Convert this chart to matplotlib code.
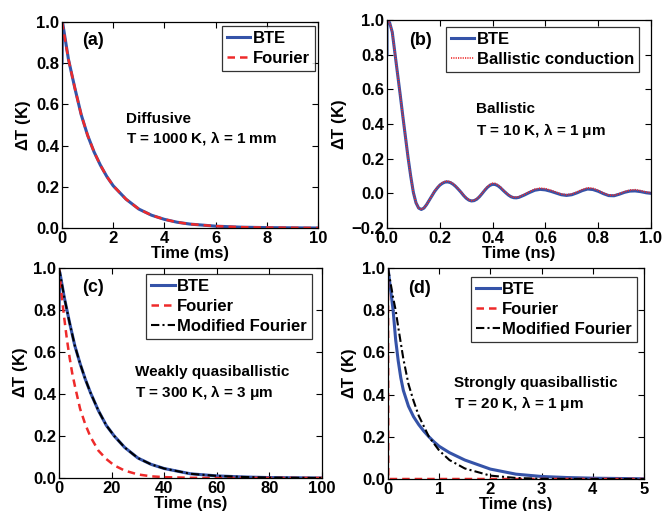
import matplotlib
matplotlib.use("Agg")
import matplotlib.pyplot as plt
from matplotlib.ticker import FormatStrFormatter, FuncFormatter

plt.rcParams['font.family'] = ['Liberation Sans', 'DejaVu Sans']
plt.rcParams['font.weight'] = 'bold'
plt.rcParams['axes.labelweight'] = 'bold'
plt.rcParams['mathtext.default'] = 'regular'

BLUE = '#3553a8'
RED = '#ee2a2a'

# ---------------- data (a) ----------------
ta_bte = [0, 0.02, 0.25, 0.5, 0.75, 1, 1.25, 1.5, 1.75, 2, 2.5, 3, 3.5, 4, 4.5, 5, 6, 7, 8, 9, 10]
va_bte = [0.8, 1.0, 0.82, 0.68, 0.55, 0.45, 0.37, 0.305, 0.25, 0.205, 0.14, 0.092, 0.062, 0.042, 0.028, 0.019, 0.009, 0.004, 0.002, 0.001, 0.0]
ta_four = [0, 0.25, 0.5, 0.75, 1, 1.25, 1.5, 1.75, 2, 2.5, 3, 3.5, 4, 4.5, 5, 6, 7, 8, 9, 10]
va_four = [1.0, 0.82, 0.68, 0.55, 0.45, 0.37, 0.305, 0.25, 0.205, 0.14, 0.092, 0.062, 0.042, 0.028, 0.019, 0.009, 0.004, 0.002, 0.001, 0.0]

# ---------------- data (b) ----------------
tb_bte = [0, 0, 0.01, 0.02, 0.03, 0.04, 0.05, 0.06, 0.07, 0.08, 0.09, 0.10, 0.11, 0.12, 0.13, 0.14, 0.15, 0.16,
          0.17, 0.18, 0.19, 0.20, 0.21, 0.22, 0.23, 0.24, 0.25, 0.26, 0.27, 0.28, 0.29, 0.30, 0.31, 0.32, 0.33,
          0.34, 0.35, 0.36, 0.37, 0.38, 0.39, 0.40, 0.41, 0.42, 0.43, 0.44, 0.45, 0.46, 0.47, 0.48, 0.49, 0.50,
          0.52, 0.54, 0.56, 0.58, 0.60, 0.62, 0.64, 0.66, 0.68, 0.70, 0.72, 0.74, 0.76, 0.78, 0.80, 0.82, 0.84,
          0.86, 0.88, 0.90, 0.92, 0.94, 0.96, 0.98, 1.0]
vb_bte = [0.8, 1.0, 0.985, 0.93, 0.81, 0.69, 0.57, 0.445, 0.325, 0.205, 0.098, 0.005, -0.055, -0.085, -0.093, -0.085, -0.065, -0.04,
          -0.015, 0.01, 0.03, 0.047, 0.058, 0.065, 0.066, 0.062, 0.053, 0.04, 0.024, 0.007, -0.012, -0.028, -0.039, -0.044, -0.042,
          -0.034, -0.02, -0.002, 0.017, 0.034, 0.046, 0.052, 0.051, 0.044, 0.032, 0.017, 0.003, -0.01, -0.02, -0.025, -0.026, -0.023,
          -0.01, 0.005, 0.018, 0.023, 0.02, 0.012, 0.002, -0.008, -0.012, -0.008, 0.003, 0.016, 0.025, 0.022, 0.012, -0.002, -0.013,
          -0.014, -0.005, 0.006, 0.013, 0.014, 0.01, 0.004, 0.0]
tb_ball = [0, 0.01, 0.02, 0.03, 0.04, 0.05, 0.06, 0.07, 0.08, 0.09, 0.10, 0.11, 0.12, 0.13, 0.14, 0.15, 0.16,
           0.17, 0.18, 0.19, 0.20, 0.21, 0.22, 0.23, 0.24, 0.25, 0.26, 0.27, 0.28, 0.29, 0.30, 0.31, 0.32, 0.33,
           0.34, 0.35, 0.36, 0.37, 0.38, 0.39, 0.40, 0.41, 0.42, 0.43, 0.44, 0.45, 0.46, 0.47, 0.48, 0.49, 0.50,
           0.52, 0.54, 0.56, 0.58, 0.60, 0.62, 0.64, 0.66, 0.68, 0.70, 0.72, 0.74, 0.76, 0.78, 0.80, 0.82, 0.84,
           0.86, 0.88, 0.90, 0.92, 0.94, 0.96, 0.98, 1.0]
vb_ball = [1.0, 0.985, 0.93, 0.81, 0.69, 0.57, 0.445, 0.325, 0.205, 0.098, 0.005, -0.055, -0.085, -0.093, -0.085, -0.065, -0.04,
           -0.014, 0.012, 0.033, 0.05, 0.062, 0.069, 0.071, 0.066, 0.056, 0.042, 0.026, 0.009, -0.01, -0.026, -0.037, -0.042, -0.04,
           -0.032, -0.018, 0.0, 0.02, 0.038, 0.051, 0.058, 0.057, 0.049, 0.036, 0.02, 0.005, -0.008, -0.018, -0.022, -0.023, -0.02,
           -0.006, 0.01, 0.024, 0.03, 0.027, 0.018, 0.007, -0.004, -0.008, -0.004, 0.008, 0.022, 0.032, 0.029, 0.017, 0.002, -0.01,
           -0.011, -0.002, 0.01, 0.019, 0.021, 0.016, 0.008, 0.003]

# ---------------- data (c) ----------------
tc_bte = [0, 0.3, 2, 4, 6, 8, 10, 12, 15, 18, 21, 25, 30, 35, 40, 50, 60, 70, 80, 90, 100]
vc_bte = [0.8, 0.98, 0.86, 0.74, 0.63, 0.545, 0.47, 0.405, 0.32, 0.25, 0.2, 0.145, 0.095, 0.065, 0.045, 0.02, 0.01, 0.005, 0.002, 0.001, 0.0]
tc_four = [0, 1, 2, 3, 4, 5, 6, 8, 10, 12, 15, 18, 21, 25, 30, 35, 40, 50, 60, 80, 100]
vc_four = [1.0, 0.87, 0.76, 0.66, 0.575, 0.5, 0.44, 0.33, 0.255, 0.195, 0.13, 0.09, 0.06, 0.035, 0.017, 0.008, 0.004, 0.001, 0.0, 0.0, 0.0]
tc_mod = [0, 2, 4, 6, 8, 10, 12, 15, 18, 21, 25, 30, 35, 40, 50, 60, 70, 80, 90, 100]
vc_mod = [1.0, 0.86, 0.74, 0.63, 0.545, 0.47, 0.405, 0.32, 0.25, 0.2, 0.145, 0.095, 0.065, 0.045, 0.02, 0.01, 0.005, 0.002, 0.001, 0.0]

# ---------------- data (d) ----------------
td_bte = [0, 0.05, 0.1, 0.15, 0.2, 0.25, 0.3, 0.4, 0.5, 0.6, 0.7, 0.8, 0.9, 1.0, 1.2, 1.5, 2.0, 2.5, 3.0, 3.5, 4, 5]
vd_bte = [1.0, 0.9, 0.8, 0.66, 0.56, 0.48, 0.42, 0.345, 0.295, 0.258, 0.227, 0.2, 0.176, 0.155, 0.125, 0.09, 0.047, 0.023, 0.012, 0.007, 0.004, 0.001]
td_four = [0, 0.005, 5]
vd_four = [1.0, 0.0, 0.0]
td_mod = [0, 0.05, 0.1, 0.15, 0.2, 0.3, 0.4, 0.5, 0.6, 0.8, 1.0, 1.2, 1.5, 2.0, 2.5, 3.0, 4, 5]
vd_mod = [1.0, 0.93, 0.86, 0.8, 0.72, 0.57, 0.45, 0.37, 0.3, 0.2, 0.135, 0.09, 0.05, 0.016, 0.005, 0.001, 0.0, 0.0]

FS = 12

fig = plt.figure(figsize=(6.64, 5.11), dpi=100)
axa = fig.add_axes([0.0934, 0.5538, 0.3855, 0.403])
axb = fig.add_axes([0.5828, 0.5538, 0.3976, 0.407])
axc = fig.add_axes([0.0889, 0.0646, 0.396, 0.411])
axd = fig.add_axes([0.5843, 0.0626, 0.3855, 0.413])

yfmt = FuncFormatter(lambda v, p: ('%.1f' % v).replace('-', '\u2212'))


def style(ax, xlim, ylim, xticks, yticks, xfmt, xlabel):
    ax.set_xlim(*xlim)
    ax.set_ylim(*ylim)
    ax.set_xticks(xticks)
    ax.set_yticks(yticks)
    ax.xaxis.set_major_formatter(FormatStrFormatter(xfmt))
    ax.yaxis.set_major_formatter(yfmt)
    ax.tick_params(direction='in', top=True, right=True, labelsize=FS, length=4, width=0.8)
    ax.tick_params(axis='x', pad=2)
    ax.tick_params(axis='y', pad=2)
    for s in ax.spines.values():
        s.set_linewidth(0.9)
    ax.set_xlabel(xlabel, fontsize=FS, fontweight='bold', labelpad=0)
    ax.set_ylabel(r'$\Delta$T (K)', fontsize=FS, fontweight='bold', labelpad=2)


def leg(ax, anchor):
    lg = ax.legend(loc='upper right', bbox_to_anchor=anchor, fontsize=FS, frameon=True,
                   fancybox=False, edgecolor='black', handlelength=1.4, handletextpad=0.15,
                   borderpad=0.3, labelspacing=0.3, borderaxespad=0.0)
    lg.get_frame().set_linewidth(0.9)
    return lg


# (a)
axa.plot(ta_bte, va_bte, color=BLUE, lw=2.2, label='BTE')
axa.plot(ta_four, va_four, color=RED, lw=1.8, ls=(0, (3, 2)), label='Fourier')
style(axa, (0, 10), (0, 1), [0, 2, 4, 6, 8, 10], [0, 0.2, 0.4, 0.6, 0.8, 1.0], '%d', 'Time (ms)')
leg(axa, (0.988, 0.98))
axa.text(0.08, 0.91, '(a)', transform=axa.transAxes, fontsize=13, fontweight='bold', va='center')
axa.text(0.25, 0.53, 'Diffusive', transform=axa.transAxes, fontsize=11, fontweight='bold', va='center')
axa.text(0.25, 0.435, r'T = 1000 K, $\lambda$ = 1 mm', transform=axa.transAxes, fontsize=11, fontweight='bold', va='center')

# (b)
axb.plot(tb_bte, vb_bte, color=BLUE, lw=2.2, label='BTE')
axb.plot(tb_ball, vb_ball, color=RED, lw=1.2, ls=(0, (0.7, 0.7)), label='Ballistic conduction')
style(axb, (0, 1), (-0.2, 1), [0, 0.2, 0.4, 0.6, 0.8, 1.0], [-0.2, 0, 0.2, 0.4, 0.6, 0.8, 1.0], '%.1f', 'Time (ns)')
leg(axb, (0.955, 0.966))
axb.text(0.083, 0.90, '(b)', transform=axb.transAxes, fontsize=13, fontweight='bold', va='center')
axb.text(0.337, 0.57, 'Ballistic', transform=axb.transAxes, fontsize=11, fontweight='bold', va='center')
axb.text(0.337, 0.47, r'T = 10 K, $\lambda$ = 1 $\mu$m', transform=axb.transAxes, fontsize=11, fontweight='bold', va='center')

# (c)
axc.plot(tc_bte, vc_bte, color=BLUE, lw=2.2, label='BTE')
axc.plot(tc_four, vc_four, color=RED, lw=1.8, ls=(0, (3, 2)), label='Fourier')
axc.plot(tc_mod, vc_mod, color='black', lw=1.5, ls=(0, (4, 1.5, 1, 1.5)), label='Modified Fourier')
style(axc, (0, 100), (0, 1), [0, 20, 40, 60, 80, 100], [0, 0.2, 0.4, 0.6, 0.8, 1.0], '%d', 'Time (ns)')
leg(axc, (0.962, 0.971))
axc.text(0.087, 0.905, '(c)', transform=axc.transAxes, fontsize=13, fontweight='bold', va='center')
axc.text(0.29, 0.505, 'Weakly quasiballistic', transform=axc.transAxes, fontsize=11, fontweight='bold', va='center')
axc.text(0.29, 0.405, r'T = 300 K, $\lambda$ = 3 $\mu$m', transform=axc.transAxes, fontsize=11, fontweight='bold', va='center')

# (d)
axd.plot(td_bte, vd_bte, color=BLUE, lw=2.2, label='BTE')
axd.plot(td_four, vd_four, color=RED, lw=1.8, ls=(0, (3, 2)), label='Fourier')
axd.plot(td_mod, vd_mod, color='black', lw=1.5, ls=(0, (4, 1.5, 1, 1.5)), label='Modified Fourier')
style(axd, (0, 5), (0, 1), [0, 1, 2, 3, 4, 5], [0, 0.2, 0.4, 0.6, 0.8, 1.0], '%d', 'Time (ns)')
leg(axd, (0.973, 0.957))
axd.text(0.078, 0.905, '(d)', transform=axd.transAxes, fontsize=13, fontweight='bold', va='center')
axd.text(0.258, 0.455, 'Strongly quasiballistic', transform=axd.transAxes, fontsize=11, fontweight='bold', va='center')
axd.text(0.258, 0.36, r'T = 20 K, $\lambda$ = 1 $\mu$m', transform=axd.transAxes, fontsize=11, fontweight='bold', va='center')

fig.savefig('out.png', dpi=100)
